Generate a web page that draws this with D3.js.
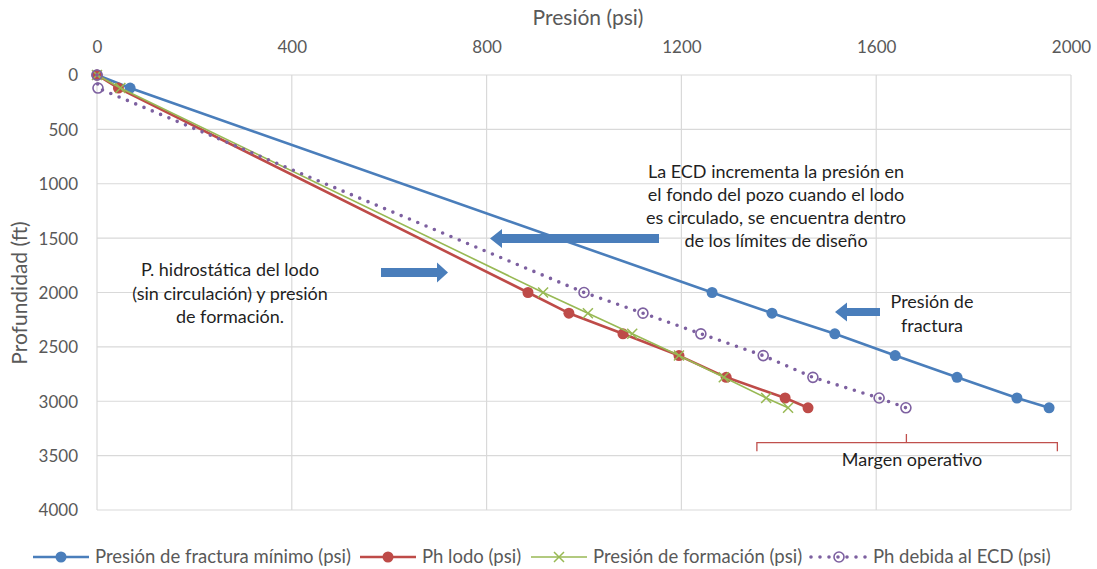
<!DOCTYPE html>
<html>
<head>
<meta charset="utf-8">
<script src="https://cdn.jsdelivr.net/npm/d3@7/dist/d3.min.js"></script>
<style>
  html, body { margin: 0; padding: 0; background: #fff; }
  svg { display: block; font-family: Lato, "Open Sans", sans-serif; }
</style>
</head>
<body>
<svg id="chart" width="1097" height="569"></svg>
<script>
// Depth (ft) of each reading, shared by all four series
const depths = [0, 120, 2000, 2190, 2380, 2580, 2780, 2970, 3060];

// Pressures (psi) at each depth
const fracturaMin = [0, 68, 1263, 1386, 1515, 1639, 1766, 1889, 1955];
const phLodo      = [0, 44, 885, 969, 1080, 1195, 1292, 1413, 1460];
const formacion   = [0, 48, 916, 1008, 1099, 1195, 1287, 1374, 1419];
const phECD       = [0, 2, 1000, 1121, 1240, 1368, 1470, 1606, 1661];

const seriesNames = [
  "Presión de fractura mínimo (psi)",
  "Ph lodo (psi)",
  "Presión de formación (psi)",
  "Ph debida al ECD (psi)"
];

const xTicks = [0, 400, 800, 1200, 1600, 2000];
const yTicks = [0, 500, 1000, 1500, 2000, 2500, 3000, 3500, 4000];

const svg = d3.select("#chart");
const x = d3.scaleLinear().domain([0, 2000]).range([97, 1071]);
const y = d3.scaleLinear().domain([0, 4000]).range([75, 510]);

const grid = "#d9d9d9", axisText = "#595959";

// Gridlines
svg.append("g").selectAll("line").data(yTicks).join("line")
  .attr("x1", x(0)).attr("x2", x(2000))
  .attr("y1", d => y(d)).attr("y2", d => y(d))
  .attr("stroke", grid).attr("stroke-width", 1.2);
svg.append("g").selectAll("line").data(xTicks).join("line")
  .attr("y1", y(0)).attr("y2", y(4000))
  .attr("x1", d => x(d)).attr("x2", d => x(d))
  .attr("stroke", grid).attr("stroke-width", 1.2);

// Axes (top pressure axis, left depth axis)
const fmt = d3.format("d");
const xAxis = svg.append("g").attr("transform", `translate(0,${y(0) - 22})`)
  .call(d3.axisTop(x).tickValues(xTicks).tickFormat(fmt).tickSize(0).tickPadding(0));
const yAxis = svg.append("g").attr("transform", `translate(${x(0) - 19},0)`)
  .call(d3.axisLeft(y).tickValues(yTicks).tickFormat(fmt).tickSize(0).tickPadding(0));
[xAxis, yAxis].forEach(a => {
  a.select(".domain").remove();
  a.selectAll("text").attr("fill", axisText).attr("font-size", 17)
    .attr("font-family", "Lato, sans-serif");
});
yAxis.selectAll("text").attr("dy", "0.35em");

svg.append("text").attr("x", 588).attr("y", 25).attr("text-anchor", "middle")
  .attr("fill", axisText).attr("font-size", 21).text("Presión (psi)");
svg.append("text").attr("transform", "translate(27,293) rotate(-90)")
  .attr("text-anchor", "middle").attr("fill", axisText).attr("font-size", 21)
  .text("Profundidad (ft)");

const colors = ["#4a7ebb", "#be4b48", "#98b954", "#7d60a0"];
const allSeries = [fracturaMin, phLodo, formacion, phECD].map((vals, i) =>
  ({ name: seriesNames[i], color: colors[i], pts: vals.map((p, j) => [p, depths[j]]) }));

const line = d3.line().x(d => x(d[0])).y(d => y(d[1]));
const plot = svg.append("g");

function drawMarker(g, kind, color, cx, cy) {
  if (kind === 0 || kind === 1) {
    g.append("circle").attr("cx", cx).attr("cy", cy).attr("r", 5.5).attr("fill", color);
  } else if (kind === 2) {
    const s = 5;
    g.append("path").attr("d", `M${cx - s},${cy - s}L${cx + s},${cy + s}M${cx - s},${cy + s}L${cx + s},${cy - s}`)
      .attr("stroke", color).attr("stroke-width", 1.5).attr("fill", "none");
  } else {
    g.append("circle").attr("cx", cx).attr("cy", cy).attr("r", 5)
      .attr("fill", "none").attr("stroke", color).attr("stroke-width", 1.6);
  }
}

function styleLine(sel, i) {
  sel.attr("fill", "none").attr("stroke", colors[i]);
  if (i === 3) sel.attr("stroke-width", 3.6).attr("stroke-dasharray", "0 9").attr("stroke-linecap", "round");
  else sel.attr("stroke-width", i === 2 ? 1.6 : 2.6).attr("stroke-linejoin", "round");
  return sel;
}

allSeries.forEach((s, i) => {
  const g = plot.append("g");
  styleLine(g.append("path").attr("d", line(s.pts)), i);
  s.pts.forEach(p => drawMarker(g, i, s.color, x(p[0]), y(p[1])));
});

// Annotations
const noteColor = "#1f1f1f", arrowColor = "#4a7ebb";
function note(lines, cx, y0, lh) {
  const t = svg.append("text").attr("text-anchor", "middle").attr("fill", noteColor).attr("font-size", 18);
  lines.forEach((l, k) => t.append("tspan").attr("x", cx).attr("y", y0 + k * lh).text(l));
}
note(["La ECD incrementa la presión en", "el fondo del pozo cuando el lodo",
      "es circulado, se encuentra dentro", "de los límites de diseño"], 776, 178, 23);
note(["P. hidrostática del lodo", "(sin circulación) y presión", "de formación."], 230, 276, 23.5);
note(["Presión de", "fractura"], 932, 308, 23.5);
note(["Margen operativo"], 912, 466, 0);

// Block arrows: tail x, tip x, centre y, body thickness, head height, head length
function blockArrow(x0, x1, cy, body, head, hl) {
  const dir = Math.sign(x1 - x0);
  const hb = x1 - dir * hl;
  const d = `M${x0},${cy - body / 2}L${hb},${cy - body / 2}L${hb},${cy - head / 2}L${x1},${cy}` +
            `L${hb},${cy + head / 2}L${hb},${cy + body / 2}L${x0},${cy + body / 2}Z`;
  svg.append("path").attr("d", d).attr("fill", arrowColor);
}
blockArrow(659, 490, 238.5, 9, 19, 12);
blockArrow(381, 448, 272.5, 9, 20, 11);
blockArrow(880, 835, 312, 8, 19, 12);

// Operating-margin bracket, in data coordinates
const br = { x0: 1355, x1: 1972, mid: 1662, yLine: 3380, yEnd: 3460, yTip: 3300 };
svg.append("path")
  .attr("d", `M${x(br.x0)},${y(br.yEnd)}L${x(br.x0)},${y(br.yLine)}L${x(br.x1)},${y(br.yLine)}L${x(br.x1)},${y(br.yEnd)}` +
             `M${x(br.mid)},${y(br.yLine)}L${x(br.mid)},${y(br.yTip)}`)
  .attr("fill", "none").attr("stroke", "#c0504d").attr("stroke-width", 1.3);

// Legend
const legendX = [33, 360, 531, 811];
const legend = svg.append("g");
allSeries.forEach((s, i) => {
  const lx = legendX[i], ly = 557;
  const g = legend.append("g");
  styleLine(g.append("line").attr("x1", lx).attr("x2", lx + 56).attr("y1", ly).attr("y2", ly), i);
  drawMarker(g, i, s.color, lx + 28, ly);
  g.append("text").attr("x", lx + 62).attr("y", ly).attr("dy", "0.35em")
    .attr("fill", axisText).attr("font-size", 18.5).text(s.name);
});
</script>
</body>
</html>
